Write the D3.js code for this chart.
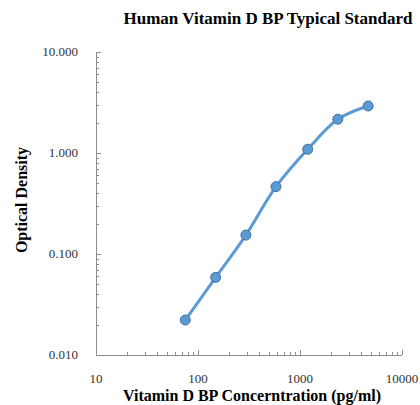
<!DOCTYPE html>
<html>
<head>
<meta charset="utf-8">
<script src="https://cdn.jsdelivr.net/npm/d3@7"></script>
<style>
body { margin: 0; background: #fff; }
text { font-family: "Liberation Serif", "Times New Roman", serif; }
</style>
</head>
<body>
<div id="content"></div>
<script>
var width = 420;
var height = 405;

// standard curve
var concentration = [75, 149, 295, 581, 1190, 2350, 4660];
var opticalDensity = [0.0222, 0.0587, 0.154, 0.464, 1.088, 2.16, 2.92];

var xTicks = [10, 100, 1000, 10000];
var yTicks = [0.01, 0.1, 1, 10];
var yTickLabels = ["0.010", "0.100", "1.000", "10.000"];

var plotLeft = 96, plotRight = 402, plotTop = 52, plotBottom = 355;

var x = d3.scaleLog().domain([10, 10000]).range([plotLeft, plotRight]);
var y = d3.scaleLog().domain([0.01, 10]).range([plotBottom, plotTop]);

var svg = d3.select('#content').append('svg')
    .attr('width', width)
    .attr('height', height);

// minor ticks 2..9 in each decade
function minors(lo, hi) {
    var out = [];
    for (var d = lo; d < hi; d *= 10) {
        for (var k = 2; k <= 9; k++) out.push(d * k);
    }
    return out;
}

var axisColor = "#8c8c8c";

// y axis
var ga = svg.append('g');
ga.append('line')
    .attr('x1', plotLeft + 0.5).attr('x2', plotLeft + 0.5)
    .attr('y1', plotTop).attr('y2', plotBottom)
    .style('stroke', axisColor).style('stroke-width', 1);
ga.selectAll('line.ymaj').data(yTicks).enter().append('line')
    .attr('class', 'ymaj')
    .attr('x1', plotLeft).attr('x2', plotLeft + 5)
    .attr('y1', function(d) { return Math.round(y(d)) + 0.5; })
    .attr('y2', function(d) { return Math.round(y(d)) + 0.5; })
    .style('stroke', axisColor);
ga.selectAll('line.ymin').data(minors(0.01, 10)).enter().append('line')
    .attr('class', 'ymin')
    .attr('x1', plotLeft).attr('x2', plotLeft + 3)
    .attr('y1', function(d) { return Math.round(y(d)) + 0.5; })
    .attr('y2', function(d) { return Math.round(y(d)) + 0.5; })
    .style('stroke', axisColor);
ga.selectAll('text.ylab').data(yTicks).enter().append('text')
    .attr('class', 'ylab')
    .attr('x', 78)
    .attr('y', function(d) { return y(d) + 4; })
    .attr('text-anchor', 'end')
    .style('font-size', '13px')
    .style('fill', '#333')
    .text(function(d, i) { return yTickLabels[i]; });

// x axis
ga.append('line')
    .attr('x1', plotLeft).attr('x2', plotRight)
    .attr('y1', plotBottom + 0.5).attr('y2', plotBottom + 0.5)
    .style('stroke', axisColor).style('stroke-width', 1);
ga.selectAll('line.xmaj').data(xTicks).enter().append('line')
    .attr('class', 'xmaj')
    .attr('x1', function(d) { return Math.round(x(d)) + 0.5; })
    .attr('x2', function(d) { return Math.round(x(d)) + 0.5; })
    .attr('y1', plotBottom).attr('y2', plotBottom - 5)
    .style('stroke', axisColor);
ga.selectAll('line.xmin').data(minors(10, 10000)).enter().append('line')
    .attr('class', 'xmin')
    .attr('x1', function(d) { return Math.round(x(d)) + 0.5; })
    .attr('x2', function(d) { return Math.round(x(d)) + 0.5; })
    .attr('y1', plotBottom).attr('y2', plotBottom - 3)
    .style('stroke', axisColor);
ga.selectAll('text.xlab').data(xTicks).enter().append('text')
    .attr('class', 'xlab')
    .attr('x', function(d) { return x(d); })
    .attr('y', 383)
    .attr('text-anchor', 'middle')
    .style('font-size', '13px')
    .style('fill', '#333')
    .text(function(d) { return d; });

// titles
svg.append('text')
    .attr('x', 268).attr('y', 24)
    .attr('text-anchor', 'middle')
    .style('font-size', '17px').style('font-weight', 'bold')
    .text('Human Vitamin D BP Typical Standard');
svg.append('text')
    .attr('x', 252).attr('y', 401)
    .attr('text-anchor', 'middle')
    .style('font-size', '16px').style('font-weight', 'bold')
    .text('Vitamin D BP Concerntration (pg/ml)');
svg.append('text')
    .attr('transform', 'translate(27,200) rotate(-90)')
    .attr('text-anchor', 'middle')
    .style('font-size', '16px').style('font-weight', 'bold')
    .text('Optical Density');

// curve + markers
var pts = concentration.map(function(c, i) { return [c, opticalDensity[i]]; });
var line = d3.line()
    .x(function(d) { return x(d[0]); })
    .y(function(d) { return y(d[1]); })
    .curve(d3.curveCatmullRom.alpha(0.5));

svg.append('path')
    .attr('d', line(pts))
    .style('fill', 'none')
    .style('stroke', '#5b9bd5')
    .style('stroke-width', 3);

svg.selectAll('circle').data(pts).enter().append('circle')
    .attr('cx', function(d) { return x(d[0]); })
    .attr('cy', function(d) { return y(d[1]); })
    .attr('r', 5)
    .style('fill', '#5b9bd5')
    .style('stroke', '#41719c')
    .style('stroke-width', 1);
</script>
</body>
</html>
